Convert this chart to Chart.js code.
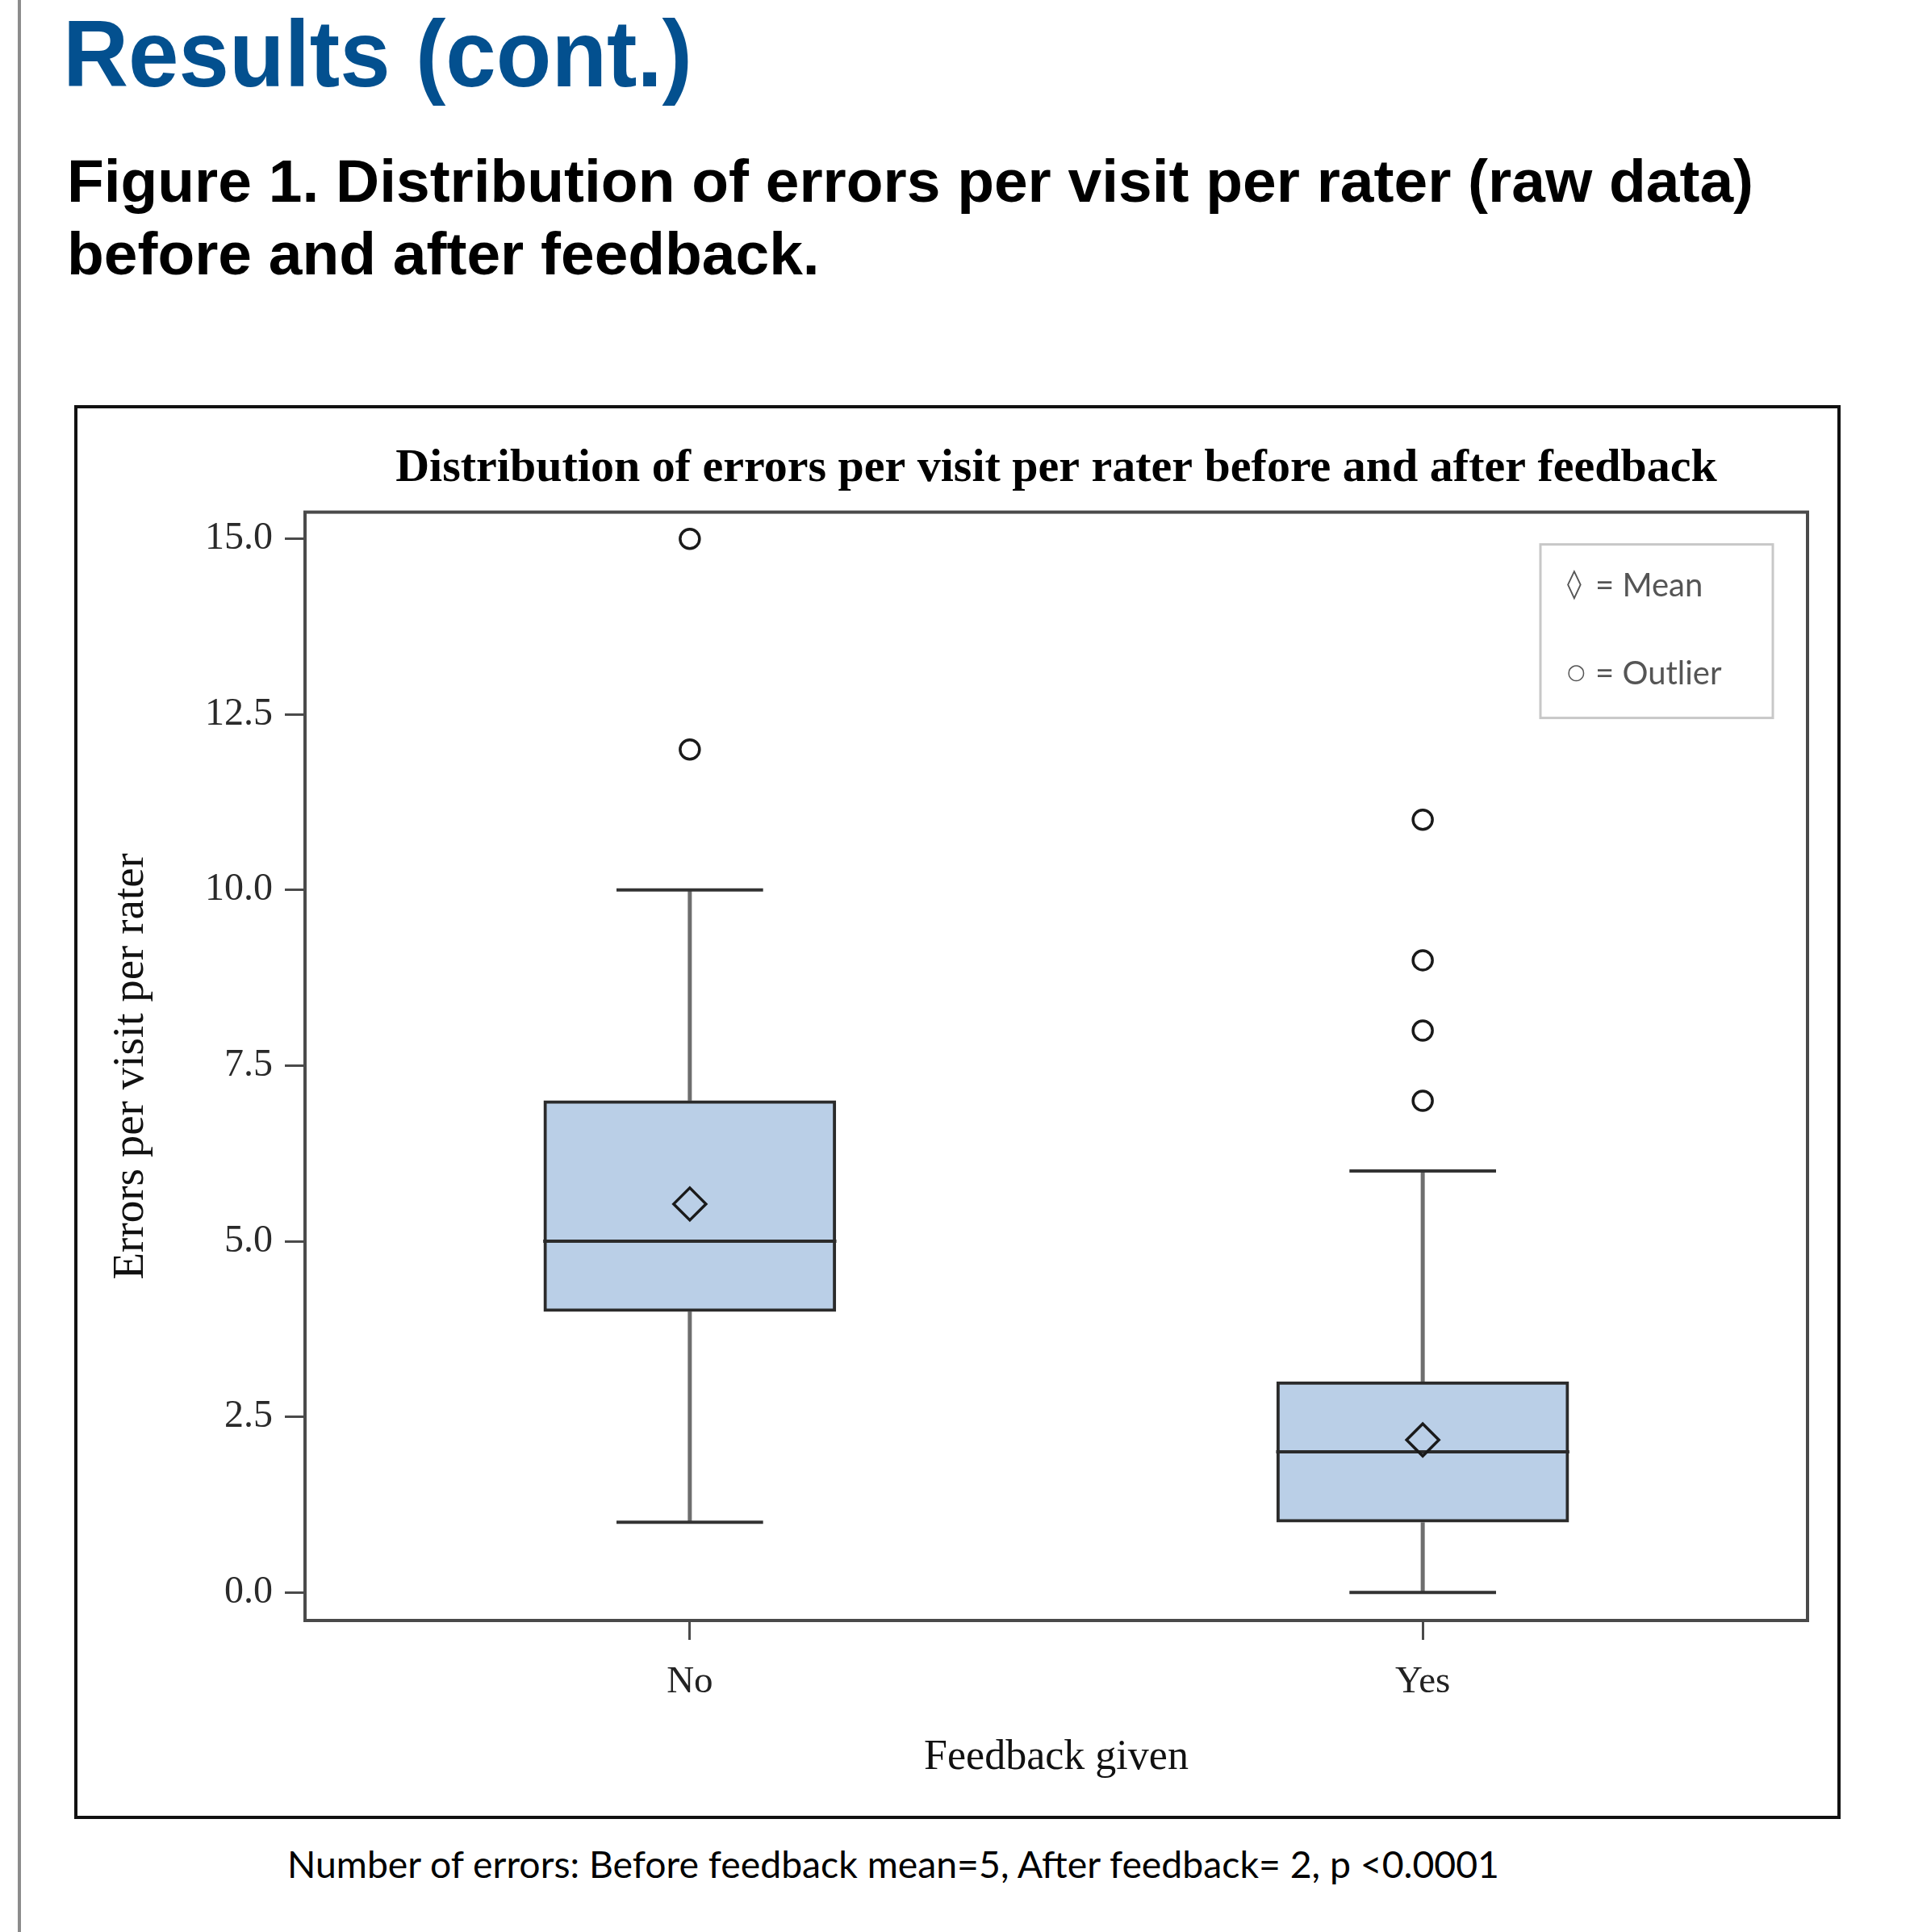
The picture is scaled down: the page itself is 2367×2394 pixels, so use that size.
<!DOCTYPE html>
<html><head><meta charset="utf-8">
<script src="https://cdn.jsdelivr.net/npm/chart.js@4"></script>
<style>
html,body{margin:0;padding:0;background:#fff;}
body{width:2367px;height:2394px;position:relative;overflow:hidden;}
.txt{position:absolute;white-space:nowrap;line-height:1;transform-origin:0 0;display:inline-block;}
#bar{position:absolute;left:22px;top:0;width:4px;height:2394px;background:#8c8c8c;}
#frame{position:absolute;left:92px;top:502px;width:2181px;height:1744px;border:4px solid #111;}
#wrap{position:absolute;left:96px;top:506px;width:2181px;height:1744px;}
</style></head>
<body>
<div id="bar"></div>
<div id="h1" class="txt" style="font:bold 117px 'Liberation Sans';color:#03508f">Results (cont.)</div>
<div id="c1" class="txt" style="font:bold 74px 'Liberation Sans';color:#000">Figure 1. Distribution of errors per visit per rater (raw data)</div>
<div id="c2" class="txt" style="font:bold 74px 'Liberation Sans';color:#000">before and after feedback.</div>
<div id="frame"></div>
<div id="wrap"><canvas id="chart" width="2181" height="1744"></canvas></div>
<div id="fn" class="txt" style="font:47px Lato;color:#000">Number of errors: Before feedback mean=5, After feedback= 2, p &lt;0.0001</div>
<script>
// ---- data ----
const categories = ['No', 'Yes'];
const q1 = [4, 1];
const medians = [5, 2];
const q3 = [7, 3];
const whiskerLow = [1, 0];
const whiskerHigh = [10, 6];
const means = [5.53, 2.17];
const outliers = [[12, 15], [7, 8, 9, 11]];
const yTicks = [0, 2.5, 5, 7.5, 10, 12.5, 15];
const legendLabels = [{symbol: '\u25CA', text: '= Mean'}, {symbol: '\u25CB', text: '= Outlier'}];

// ---- layout/style constants ----
const BOX_HALF = 0.2, CAP_HALF = 0.1;
const Y_MIN = -0.4, Y_MAX = 15.38, X_MIN = -0.525, X_MAX = 1.525;
const SERIF = "'Liberation Serif', 'Times New Roman', serif";

function segs(list) {
  const pts = [];
  list.forEach(([x0, y0, x1, y1]) => { pts.push({x: x0, y: y0}, {x: x1, y: y1}, {x: x1, y: null}); });
  return pts;
}

const boxData = categories.map((c, i) => ({x: i, y: [q1[i], q3[i]]}));
const medianData = segs(categories.map((c, i) => [i - BOX_HALF, medians[i], i + BOX_HALF, medians[i]]));
const whiskerData = segs(categories.flatMap((c, i) => [[i, q3[i], i, whiskerHigh[i]], [i, q1[i], i, whiskerLow[i]]]));
const capData = segs(categories.flatMap((c, i) => [[i - CAP_HALF, whiskerHigh[i], i + CAP_HALF, whiskerHigh[i]], [i - CAP_HALF, whiskerLow[i], i + CAP_HALF, whiskerLow[i]]]));
const meanData = categories.map((c, i) => ({x: i, y: means[i]}));
const outlierData = categories.flatMap((c, i) => outliers[i].map(v => ({x: i, y: v})));

const frameAround = {
  id: 'frameAround',
  afterDraw(chart) {
    const {ctx, chartArea: a} = chart;
    ctx.save();
    ctx.strokeStyle = '#4a4a4a';
    ctx.lineWidth = 4;
    ctx.strokeRect(a.left, a.top, a.right - a.left, a.bottom - a.top);
    ctx.restore();
  }
};

const insetLegend = {
  id: 'insetLegend',
  afterDraw(chart) {
    const {ctx, chartArea: a} = chart;
    const w = 288, h = 215;
    const x = a.right - 43 - w, y = a.top + 40;
    ctx.save();
    ctx.strokeStyle = '#c8c8c8';
    ctx.lineWidth = 3;
    ctx.strokeRect(x, y, w, h);
    ctx.fillStyle = '#555';
    ctx.textBaseline = 'middle';
    ctx.textAlign = 'left';
    const rows = [51, 160];
    const symSize = [36, 26];
    legendLabels.forEach((it, k) => {
      ctx.font = symSize[k] + "px 'DejaVu Sans'";
      ctx.fillText(it.symbol, x + 33, y + rows[k]);
      ctx.font = "40px Lato";
      ctx.fillText(it.text, x + 68, y + rows[k]);
    });
    ctx.restore();
  }
};

new Chart(document.getElementById('chart'), {
  type: 'bar',
  data: {
    datasets: [
      {type: 'bar', data: boxData, backgroundColor: '#bacfe7', borderColor: '#2b2b2b', borderWidth: 4,
       borderSkipped: false, barThickness: 362, order: 10},
      {type: 'line', data: whiskerData, borderColor: '#6e6e6e', borderWidth: 5, pointRadius: 0, spanGaps: false, order: 9},
      {type: 'line', data: capData, borderColor: '#333', borderWidth: 4, pointRadius: 0, spanGaps: false, order: 8},
      {type: 'line', data: medianData, borderColor: '#2b2b2b', borderWidth: 4, pointRadius: 0, spanGaps: false, order: 7},
      {type: 'line', data: meanData, showLine: false, pointStyle: 'rectRot', pointRadius: 20,
       pointBorderWidth: 3.5, pointBorderColor: '#1a1a1a', pointBackgroundColor: 'rgba(0,0,0,0)', order: 1},
      {type: 'line', data: outlierData, showLine: false, pointStyle: 'circle', pointRadius: 12,
       pointBorderWidth: 3.5, pointBorderColor: '#1a1a1a', pointBackgroundColor: 'rgba(0,0,0,0)', order: 1}
    ]
  },
  options: {
    responsive: false,
    animation: false,
    layout: {padding: {left: 0, right: 37, top: 0, bottom: 0}},
    plugins: {
      legend: {display: false},
      tooltip: {enabled: false},
      title: {display: true, fullSize: false, text: 'Distribution of errors per visit per rater before and after feedback',
        font: {family: SERIF, size: 58, weight: 'bold'}, color: '#000', padding: {top: 40, bottom: 19}}
    },
    scales: {
      x: {
        type: 'linear', min: X_MIN, max: X_MAX, offset: false,
        afterBuildTicks: s => { s.ticks = categories.map((c, i) => ({value: i})); },
        afterFit: s => { s.height = 242; },
        ticks: {callback: v => categories[v] ?? '', font: {family: SERIF, size: 47}, color: '#222', padding: 24, maxRotation: 0},
        grid: {display: true, offset: false, drawOnChartArea: false, drawTicks: true, tickLength: 24, color: '#4a4a4a', lineWidth: 3},
        border: {display: true, color: '#4a4a4a', width: 4},
        title: {display: true, text: 'Feedback given', font: {family: SERIF, size: 52}, color: '#111', padding: {top: 0, bottom: 40}}
      },
      y: {
        type: 'linear', min: Y_MIN, max: Y_MAX,
        afterBuildTicks: s => { s.ticks = yTicks.map(v => ({value: v})); },
        afterFit: s => { s.width = 282; },
        ticks: {callback: v => Number(v).toFixed(1), font: {family: SERIF, size: 48}, color: '#2a2a2a', padding: 15},
        grid: {display: true, drawOnChartArea: false, drawTicks: true, tickLength: 25, color: '#4a4a4a', lineWidth: 3},
        border: {display: true, color: '#4a4a4a', width: 4},
        title: {display: true, text: 'Errors per visit per rater', font: {family: SERIF, size: 55}, color: '#111', padding: {top: 34, bottom: 0}}
      }
    }
  },
  plugins: [frameAround, insetLegend]
});

// ---- place HTML texts by baseline ----
function place(id, left, baseline, width, forcedScale) {
  const el = document.getElementById(id);
  el.style.left = left + 'px';
  el.style.top = '0px';
  const w = el.getBoundingClientRect().width;
  const m = document.createElement('span');
  m.style.display = 'inline-block'; m.style.width = '0'; m.style.height = '0';
  el.appendChild(m);
  const b = m.getBoundingClientRect().top - el.getBoundingClientRect().top;
  el.style.top = (baseline - b) + 'px';
  const sc = forcedScale || (width ? width / w : 1);
  el.style.transform = 'scaleX(' + sc + ')';
  return sc;
}
place('h1', 78, 107, 780);
const s1 = place('c1', 83, 250, 2090);
place('c2', 83, 340, null, s1);
place('fn', 356, 2327, 1502);
</script>
</body></html>
